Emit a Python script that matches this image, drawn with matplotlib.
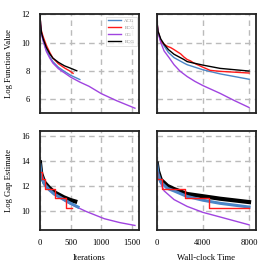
import matplotlib
matplotlib.use("Agg")
import matplotlib.pyplot as plt

# ---- data ----
# top row: log function value vs iterations
cg_fv_iter = [0, 10, 25, 53, 105, 160, 210, 300, 400, 500, 650, 800, 1000, 1250, 1548]
cg_fv_iter_val = [12.0, 11.2, 10.6, 10.1, 9.36, 8.9, 8.55, 8.15, 7.85, 7.55, 7.2, 6.9, 6.38, 5.88, 5.35]
acg_fv_iter = [0, 10, 25, 53, 105, 160, 210, 300, 400, 500, 650]
acg_fv_iter_val = [12.0, 11.2, 10.65, 10.15, 9.45, 9.0, 8.65, 8.25, 7.95, 7.68, 7.38]
bcg_fv_iter = [0, 10, 25, 53, 105, 160, 210, 300, 400, 480, 540]
bcg_fv_iter_val = [12.0, 11.3, 10.8, 10.4, 9.8, 9.3, 8.9, 8.5, 8.2, 8.0, 7.82]
blk_fv_iter = [0, 10, 25, 53, 105, 160, 210, 300, 400, 500, 600]
blk_fv_iter_val = [12.0, 11.3, 10.7, 10.25, 9.64, 9.2, 8.9, 8.6, 8.35, 8.18, 8.0]

# top row: log function value vs wall-clock time
cg_fv_time = [0, 30, 100, 340, 630, 1060, 1490, 2000, 2630, 3300, 4000, 5490, 6700, 8000]
cg_fv_time_val = [12.0, 11.3, 10.7, 10.0, 9.4, 8.93, 8.43, 7.98, 7.59, 7.25, 6.95, 6.4, 5.9, 5.4]
acg_fv_time = [0, 30, 100, 340, 630, 1000, 1490, 2340, 2630, 4000, 5490, 8000]
acg_fv_time_val = [12.0, 11.3, 10.75, 10.15, 9.76, 9.3, 8.93, 8.55, 8.43, 8.07, 7.78, 7.4]
bcg_fv_time = [0, 30, 100, 340, 630, 920, 1200, 1490, 1770, 2060, 2340, 2630, 2920, 3200,
               4000, 4630, 5490, 8000]
bcg_fv_time_val = [12.0, 11.3, 10.8, 10.1, 9.88, 9.73, 9.64, 9.5, 9.35, 9.2, 8.98, 8.8, 8.7,
                   8.55, 8.25, 8.03, 7.96, 7.84]
blk_fv_time = [0, 30, 100, 340, 630, 1000, 1490, 2340, 2630, 4000, 5490, 8000]
blk_fv_time_val = [12.0, 11.3, 10.8, 10.25, 9.88, 9.5, 9.17, 8.8, 8.65, 8.4, 8.17, 7.98]

# bottom row: log gap estimate vs iterations
cg_gap_iter = [0, 20, 86, 150, 242, 403, 500, 750, 1050, 1300, 1548]
cg_gap_iter_val = [13.6, 12.8, 12.0, 11.65, 11.35, 10.8, 10.53, 9.95, 9.36, 9.05, 8.82]
acg_gap_iter = [0, 20, 70, 150, 230, 390, 500, 620]
acg_gap_iter_val = [13.7, 12.9, 12.15, 11.7, 11.35, 10.9, 10.6, 10.3]
blk_gap_iter = [0, 20, 70, 150, 230, 390, 500, 575]
blk_gap_iter_val = [13.9, 13.0, 12.3, 11.85, 11.5, 11.08, 10.86, 10.75]
bcg_gap_iter = [0, 32, 86, 247, 425, 520]
bcg_gap_val = [13.1, 12.55, 11.75, 11.03, 10.2, 10.2]

# bottom row: log gap estimate vs wall-clock time
cg_gap_time = [0, 100, 340, 630, 1490, 2630, 4000, 5490, 8000]
cg_gap_time_val = [13.6, 12.9, 12.2, 11.6, 10.9, 10.35, 9.87, 9.5, 8.87]
acg_gap_time = [0, 100, 340, 920, 1490, 2630, 4000, 5490, 8000]
acg_gap_time_val = [13.7, 13.0, 12.3, 11.8, 11.6, 11.15, 10.85, 10.6, 10.3]
blk_gap_time = [0, 100, 340, 920, 1490, 2630, 4000, 5490, 8000]
blk_gap_time_val = [13.8, 13.2, 12.5, 12.0, 11.75, 11.35, 11.17, 10.97, 10.7]
bcg_gap_time = [0, 50, 480, 2480, 4490, 8000]

labels = ["ACG", "BCG", "CG", "BCG"]
colors = ["#4a86c8", "#ff1a1a", "#a044e0", "black"]

plt.rcParams["font.family"] = ["Liberation Serif", "DejaVu Serif"]
plt.rcParams["font.size"] = 6.2

fig = plt.figure(figsize=(2.7, 2.7), dpi=100)
w, h = 0.367, 0.366
ax_tl = fig.add_axes([0.148, 0.581, w, h])
ax_tr = fig.add_axes([0.581, 0.581, w, h])
ax_bl = fig.add_axes([0.148, 0.148, w, h])
ax_br = fig.add_axes([0.581, 0.148, w, h])

lw = 1.0
ax_tl.plot(acg_fv_iter, acg_fv_iter_val, color=colors[0], lw=lw, label=labels[0])
ax_tl.plot(bcg_fv_iter, bcg_fv_iter_val, color=colors[1], lw=lw, label=labels[1])
ax_tl.plot(cg_fv_iter, cg_fv_iter_val, color=colors[2], lw=lw, label=labels[2])
ax_tl.plot(blk_fv_iter, blk_fv_iter_val, color=colors[3], lw=lw, label=labels[3])

ax_tr.plot(acg_fv_time, acg_fv_time_val, color=colors[0], lw=lw)
ax_tr.plot(bcg_fv_time, bcg_fv_time_val, color=colors[1], lw=lw)
ax_tr.plot(cg_fv_time, cg_fv_time_val, color=colors[2], lw=lw)
ax_tr.plot(blk_fv_time, blk_fv_time_val, color=colors[3], lw=lw)

ax_bl.plot(cg_gap_iter, cg_gap_iter_val, color=colors[2], lw=lw)
ax_bl.plot(blk_gap_iter, blk_gap_iter_val, color=colors[3], lw=3.0)
ax_bl.plot(acg_gap_iter, acg_gap_iter_val, color=colors[0], lw=2.2)
ax_bl.plot(bcg_gap_iter, bcg_gap_val, color=colors[1], lw=lw, drawstyle="steps-post")

ax_br.plot(cg_gap_time, cg_gap_time_val, color=colors[2], lw=lw)
ax_br.plot(blk_gap_time, blk_gap_time_val, color=colors[3], lw=3.0)
ax_br.plot(acg_gap_time, acg_gap_time_val, color=colors[0], lw=2.2)
ax_br.plot(bcg_gap_time, bcg_gap_val, color=colors[1], lw=lw, drawstyle="steps-post")

for ax in (ax_tl, ax_tr, ax_bl, ax_br):
    ax.grid(True, color="#bbbbbb", linestyle=(0, (4, 3)), lw=1.0)
    ax.set_axisbelow(True)
    for s in ax.spines.values():
        s.set_linewidth(1.3)
        s.set_color("#222222")
    ax.tick_params(axis="x", length=0, pad=6.5)
    ax.tick_params(axis="y", length=0, pad=7)

for ax in (ax_tl, ax_bl):
    ax.set_xlim(0, 1615)
    ax.set_xticks([0, 500, 1000, 1500])
for ax in (ax_tr, ax_br):
    ax.set_xlim(0, 8600)
    ax.set_xticks([0, 4000, 8000])
for ax in (ax_tl, ax_tr):
    ax.set_ylim(5, 12)
    ax.set_yticks([6, 8, 10, 12])
    ax.tick_params(labelbottom=False)
for ax in (ax_bl, ax_br):
    ax.set_ylim(8.45, 16.4)
    ax.set_yticks([10, 12, 14, 16])
ax_tr.tick_params(labelleft=False)
ax_br.tick_params(labelleft=False)

ax_tl.set_ylabel("Log Function Value", labelpad=6)
ax_bl.set_ylabel("Log Gap Estimate", labelpad=6)
ax_bl.set_xlabel("Iterations", labelpad=5)
ax_br.set_xlabel("Wall-clock Time", labelpad=5)

leg = ax_tl.legend(loc="upper right", fontsize=3.5, handlelength=2.5, frameon=True,
                   borderpad=0.4, labelspacing=0.5, fancybox=False)
leg.get_frame().set_linewidth(0.5)
for t in leg.get_texts():
    t.set_color("#888888")

fig.savefig("out.png", dpi=100)
